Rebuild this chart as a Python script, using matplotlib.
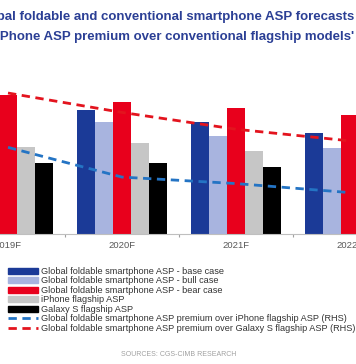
import numpy as np
import matplotlib.pyplot as plt
from matplotlib.patches import Patch
from matplotlib.lines import Line2D

plt.rcParams['font.family'] = ['Liberation Sans', 'DejaVu Sans']

# data (left axis US$, right axis premium %)
years = ['2019F', '2020F', '2021F', '2022F']
base = [1850, 1600, 1440, 1300]
bull = [1700, 1440, 1265, 1110]
bear = [1790, 1700, 1625, 1535]
iphone = [1120, 1175, 1070, 1050]
galaxy = [915, 915, 865, 840]
prem_iphone = [0.67, 0.44, 0.39, 0.32]
prem_galaxy = [1.09, 0.94, 0.81, 0.72]

labels = ['Global foldable smartphone ASP - base case',
          'Global foldable smartphone ASP - bull case',
          'Global foldable smartphone ASP - bear case',
          'iPhone flagship ASP',
          'Galaxy S flagship ASP',
          'Global foldable smartphone ASP premium over iPhone flagship ASP (RHS)',
          'Global foldable smartphone ASP premium over Galaxy S flagship ASP (RHS)']
bar_colors = ['#1B3A97', '#A8B4DF', '#E8001C', '#C6C6C6', '#000000']
line_colors = ['#2474C4', '#E3141E']

W, H = 356, 364
fig = plt.figure(figsize=(W / 100, H / 100), dpi=100)

# axes deliberately wider than the figure: the reference is a crop
x0, x1 = -49, 407
y_bot, y_top = 234, 40
ax = fig.add_axes([x0 / W, 1 - y_bot / H, (x1 - x0) / W, (y_bot - y_top) / H])

x = np.arange(len(years))
bw = 0.158
for i, (vals, c) in enumerate(zip([base, bull, bear, iphone, galaxy], bar_colors)):
    ax.bar(x + (i - 2) * bw, vals, bw, color=c, zorder=2)

ax.set_xlim(-0.5, 3.5)
ax.set_ylim(0, 2500)
ax.set_xticks(x)
ax.set_xticklabels(years, fontsize=6.8, color='#595959')
ax.set_xticks([0.5, 1.5, 2.5], minor=True)
ax.tick_params(axis='x', which='major', length=0, pad=5)
ax.tick_params(axis='x', which='minor', length=2.5, color='#A0A0A0', width=0.8)
ax.set_yticks([])
for s in ['top', 'left', 'right']:
    ax.spines[s].set_visible(False)
ax.spines['bottom'].set_color('#BFBFBF')
ax.spines['bottom'].set_linewidth(0.8)

ax2 = ax.twinx()
ax2.set_ylim(0, 1.5)
ax2.plot(x, prem_iphone, color=line_colors[0], lw=2, dashes=(3, 2))
ax2.plot(x, prem_galaxy, color=line_colors[1], lw=2, dashes=(3, 2))
ax2.set_yticks([])
for s in ax2.spines.values():
    s.set_visible(False)

# title, clipped at the left like the reference
fig.text(354 / W, 1 - 17 / H, 'Figure 3: Global foldable and conventional smartphone ASP forecasts',
         ha='right', va='center', fontsize=9.55, fontweight='bold', color='#2B3F95')
fig.text(354 / W, 1 - 37 / H, "and iPhone ASP premium over conventional flagship models'",
         ha='right', va='center', fontsize=9.55, fontweight='bold', color='#2B3F95')

handles = [Patch(color=c) for c in bar_colors]
handles += [Line2D([0], [0], color=c, lw=2, dashes=(3, 2)) for c in line_colors]
fig.legend(handles, labels, loc='upper left', bbox_to_anchor=(8 / W, 1 - 267 / H),
           frameon=False, fontsize=6.6, labelcolor='#333333', handlelength=3.3,
           handleheight=0.6, handletextpad=0.35, labelspacing=0.05,
           borderpad=0, borderaxespad=0)

fig.text(179 / W, 1 - 354 / H, 'SOURCES: CGS-CIMB RESEARCH', ha='center', va='center',
         fontsize=5, color='#A0A0A0')

fig.savefig('out.png', dpi=100)
